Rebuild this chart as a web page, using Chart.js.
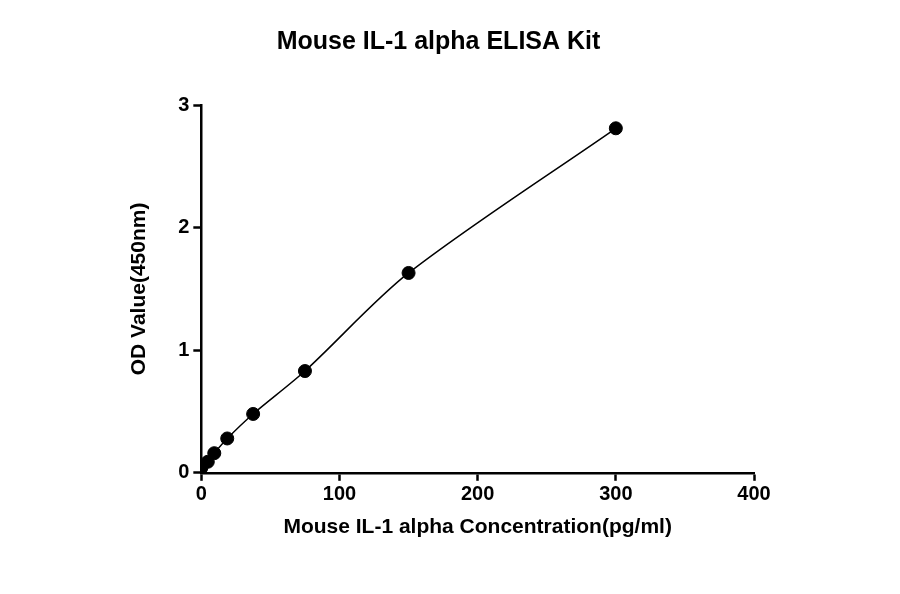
<!DOCTYPE html>
<html><head><script src="https://cdn.jsdelivr.net/npm/chart.js@4"></script>
<style>body{margin:0;background:#fff}#w{width:900px;height:594px}</style></head>
<body><div id="w"><canvas id="c"></canvas></div>
<script>
const concentrations=[0,4.69,9.38,18.75,37.5,75,150,300];
const odValues=[0.04,0.09,0.16,0.28,0.48,0.83,1.63,2.81];
const xTicks=[0,100,200,300,400];
const yTicks=[0,1,2,3];
const pts=concentrations.map((x,i)=>({x,y:odValues[i]}));
const F='"Liberation Sans", Arial, sans-serif';
const grid={display:true,drawOnChartArea:false,drawTicks:true,tickLength:8,tickColor:'#000',tickWidth:2.5};
new Chart(document.getElementById('c'),{
type:'scatter',
data:{datasets:[
{data:pts,showLine:true,borderColor:'#000',borderWidth:1.5,pointRadius:0,tension:0.3,fill:false},
{data:pts,showLine:false,backgroundColor:'#000',borderColor:'#000',pointRadius:6.5}
]},
options:{responsive:true,maintainAspectRatio:false,animation:false,
layout:{padding:{left:123,right:146,top:10,bottom:50}},
plugins:{legend:{display:false},tooltip:{enabled:false},
title:{display:true,text:'Mouse IL-1 alpha ELISA Kit',color:'#000',font:{family:F,size:25,weight:'bold'},padding:{top:17,bottom:48}}},
scales:{
x:{type:'linear',min:0,max:400,afterBuildTicks:a=>{a.ticks=xTicks.map(v=>({value:v}))},
grid,border:{color:'#000',width:2.5},
ticks:{color:'#000',font:{family:F,size:20,weight:'bold'},padding:2},
title:{display:true,text:'Mouse IL-1 alpha Concentration(pg/ml)',color:'#000',font:{family:F,size:21,weight:'bold'},padding:{top:6}}},
y:{type:'linear',min:0,max:3,afterBuildTicks:a=>{a.ticks=yTicks.map(v=>({value:v}))},
grid,border:{color:'#000',width:2.5},
ticks:{color:'#000',font:{family:F,size:20,weight:'bold'},padding:4},
title:{display:true,text:'OD Value(450nm)',color:'#000',font:{family:F,size:21,weight:'bold'},padding:{bottom:22}}}
}}});
</script></body></html>
